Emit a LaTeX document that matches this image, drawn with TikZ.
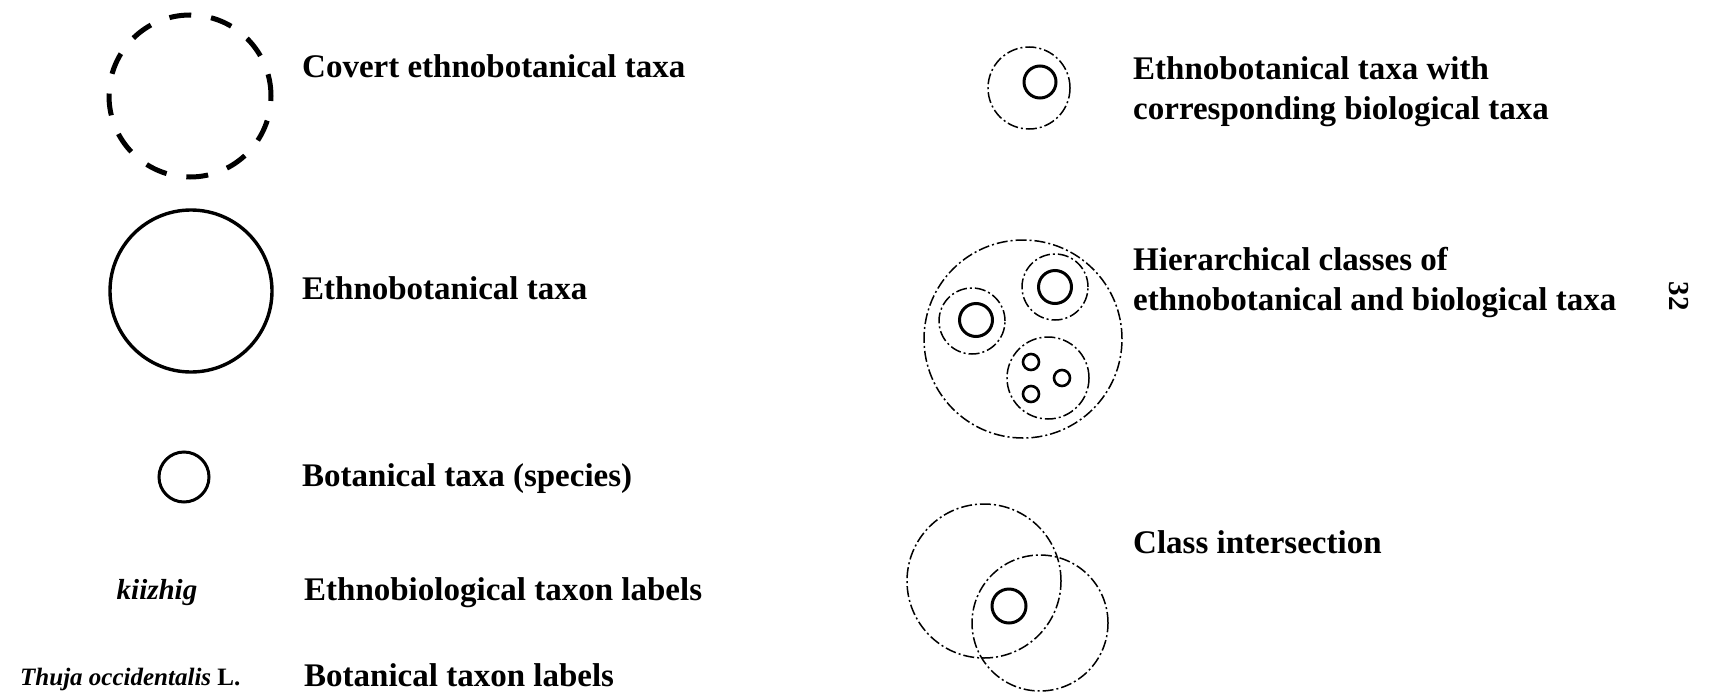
\documentclass[tikz,border=0pt]{standalone}
\usepackage{fontspec}
\setmainfont{Liberation Serif}
\begin{document}
\begin{tikzpicture}[x=1pt,y=-1pt,
  lbl/.style={anchor=mid west,inner sep=0pt,font=\fontsize{33}{38}\selectfont\bfseries},
  lbl2/.style={anchor=west,inner sep=0pt,align=left,font=\fontsize{33}{40}\selectfont\bfseries},
  ring/.style={circle,inner sep=0pt,outer sep=0pt,draw,line width=3.4pt},
  covertring/.style={circle,inner sep=0pt,outer sep=0pt,draw,line width=5pt,dash pattern=on 22pt off 20pt},
  thinring/.style={circle,inner sep=0pt,outer sep=0pt,draw,line width=1.5pt,dash pattern=on 11pt off 3pt on 2pt off 3pt},
  taxon/.style={circle,inner sep=0pt,outer sep=0pt,draw,line width=3pt},
  mini/.style={circle,inner sep=0pt,outer sep=0pt,draw,line width=2.6pt,minimum size=16pt}]
\useasboundingbox (0,0) rectangle (1720,696);

% left column: legend symbols
\node[covertring,minimum size=162pt] (covert) at (190,96) {};
\node[lbl] (covertlbl) at (302,75) {Covert ethnobotanical taxa};

\node[ring,minimum size=162pt] (ethno) at (191,291) {};
\node[lbl] (ethnolbl) at (302,297) {Ethnobotanical taxa};

\node[taxon,minimum size=50pt] (species) at (184,477) {};
\node[lbl] (specieslbl) at (302,484) {Botanical taxa (species)};

\node[anchor=mid,inner sep=0pt,font=\fontsize{29}{34}\selectfont\bfseries\itshape] (kiizhig) at (157,597) {kiizhig};
\node[lbl] (ethnolabels) at (304,598) {Ethnobiological taxon labels};

\node[anchor=mid west,inner sep=0pt,font=\fontsize{25}{30}\selectfont\bfseries] (thuja) at (20,683) {\textit{Thuja occidentalis} L.};
\node[lbl] (botlabels) at (304,684) {Botanical taxon labels};

% right column: nested and overlapping classes
\node[thinring,minimum size=82pt] (corrout) at (1029,88) {};
\node[taxon,minimum size=32pt] (corrin) at (1040,82) {};
\node[lbl2] (corrlbl) at (1133,92) {Ethnobotanical taxa with\\corresponding biological taxa};

\node[thinring,minimum size=198pt] (hier) at (1023,339) {};
\node[thinring,minimum size=66pt] (hierA) at (1055,287) {};
\node[taxon,minimum size=33pt] (hierAin) at (1055,287) {};
\node[thinring,minimum size=66pt] (hierB) at (972,321) {};
\node[taxon,minimum size=33pt] (hierBin) at (976,320) {};
\node[thinring,minimum size=82pt] (hierC) at (1048,378) {};
\node[mini] (hierC1) at (1031,362) {};
\node[mini] (hierC2) at (1062,378) {};
\node[mini] (hierC3) at (1031,394) {};
\node[lbl2] (hierlbl) at (1133,283) {Hierarchical classes of\\ethnobotanical and biological taxa};

\node[thinring,minimum size=154pt] (setA) at (984,581) {};
\node[thinring,minimum size=136pt] (setB) at (1040,623) {};
\node[taxon,minimum size=34pt] (shared) at (1009,606) {};
\node[lbl] (interlbl) at (1133,551) {Class intersection};

% page number
\node[rotate=-90,inner sep=0pt,font=\fontsize{29}{34}\selectfont\bfseries] (pagenum) at (1679,296) {32};
\end{tikzpicture}
\end{document}
